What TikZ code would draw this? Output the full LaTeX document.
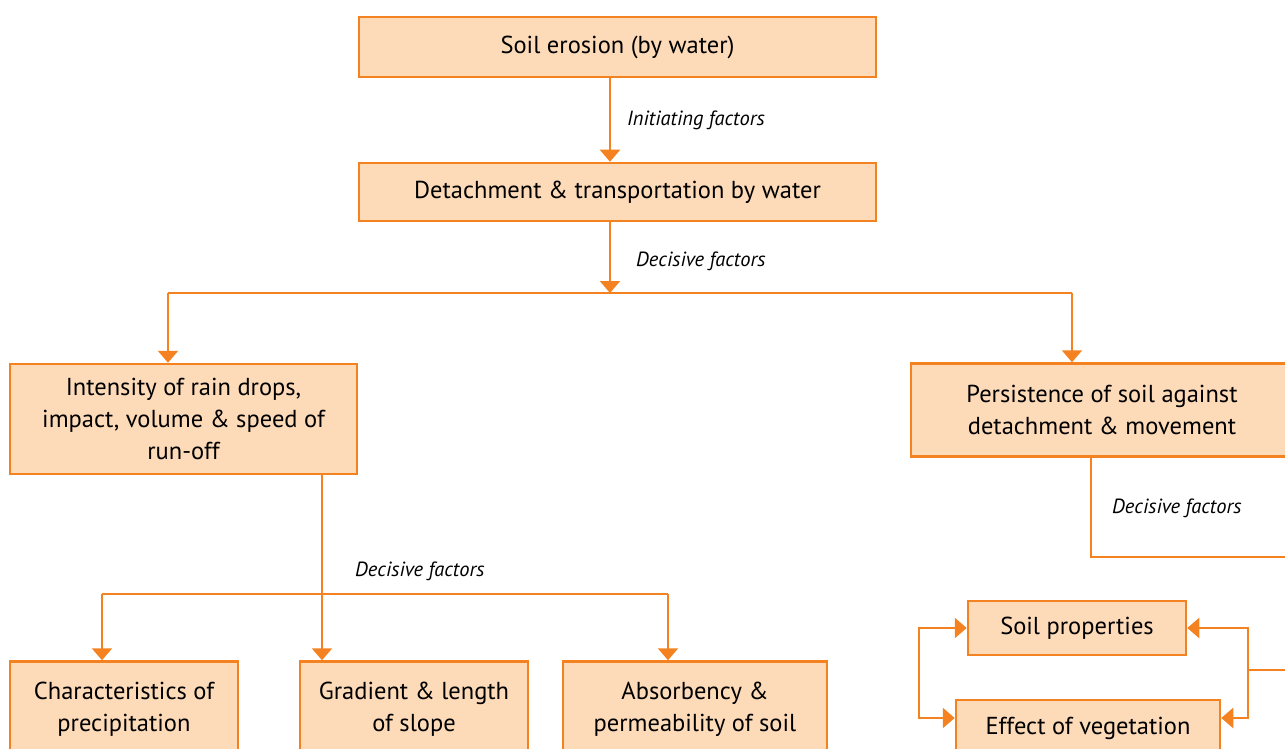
\documentclass[tikz,border=0pt]{standalone}
\usepackage{fontspec}
\setmainfont{PT Sans}
\usepackage{tikz}
\usetikzlibrary{arrows.meta,positioning}
\definecolor{boxline}{HTML}{F58220}
\definecolor{boxfill}{HTML}{FDDAB8}
\tikzset{
    %Define standard arrow tip
    >={Triangle[length=12pt,width=20pt]},
    %Define style for boxes
    punkt/.style={
           rectangle,
           draw=boxline, line width=2.5pt,
           fill=boxfill,
           inner sep=0pt,
           align=center,
           font=\fontsize{24.5}{32}\selectfont},
    % Define line and arrow style
    lijn/.style={
           draw=boxline,
           line width=2.4pt},
    pil/.style={
           lijn,
           ->},
    % Define style for labels on the arrows
    uitleg/.style={
           anchor=west,
           inner sep=0pt,
           font=\itshape\fontsize{20.5}{22}\selectfont}
}
\begin{document}
\begin{tikzpicture}[x=1pt,y=-1pt]
\useasboundingbox (0,0) rectangle (1285,749);
\clip (0,0) rectangle (1285,749);

\node[punkt, minimum width=517, minimum height=60](1) at (617.5,47) {Soil erosion (by water)};
\node[punkt, minimum width=517, minimum height=58](2) at (617.5,192) {Detachment \& transportation by water};
\node[punkt, minimum width=347, minimum height=110](3) at (183.5,419) {Intensity of rain drops,\\ impact, volume \& speed of\\ run-off};
\node[punkt, minimum width=382, minimum height=93](4) at (1102,410) {Persistence of soil against\\ detachment \& movement};
\node[punkt, minimum width=228, minimum height=96](5) at (124,709.5) {Characteristics of\\ precipitation};
\node[punkt, minimum width=228, minimum height=96](6) at (414,709.5) {Gradient \& length\\ of slope};
\node[punkt, minimum width=264, minimum height=96](7) at (695,709.5) {Absorbency \&\\ permeability of soil};
\node[punkt, minimum width=218, minimum height=54](8) at (1077,628) {Soil properties};
\node[punkt, minimum width=264, minimum height=56](9) at (1088,728) {Effect of vegetation};

% labels
\node[uitleg](l1) at (627,120) {Initiating factors};
\node[uitleg](l2) at (636,261) {Decisive factors};
\node[uitleg](l3) at (355,571) {Decisive factors};
\node[uitleg](l4) at (1112,508) {Decisive factors};

% branching points
\coordinate (a) at (610,293);
\coordinate (al) at (168,293);
\coordinate (ar) at (1072,293);
\coordinate (b) at (322,594);
\coordinate (bl) at (102,594);
\coordinate (br) at (668,594);
\coordinate (c) at (1091,557);
\coordinate (cout) at (1300,557);
\coordinate (din) at (1300,670);
\coordinate (dl) at (919,718);
\coordinate (dr) at (1248,718);

\draw[pil] (1.south -| a) -- (2.north -| a);
\draw[pil] (2.south -| a) -- (a);
\draw[lijn] (al) -- (ar);
\draw[pil] (al) -- (al |- 3.north);
\draw[pil] (ar) -- (ar |- 4.north);

\draw[pil] (3.south -| b) -- (b |- 6.north);
\draw[lijn] (bl) -- (br);
\draw[pil] (bl) -- (bl |- 5.north);
\draw[pil] (br) -- (br |- 7.north);

\draw[lijn] (4.south -| c) -- (c) -- (cout);
\draw[lijn] (din) -- (din -| dr);
\draw[pil,<->] (8.west) -| (dl) -- (dl -| 9.west);
\draw[pil,<->] (8.east) -| (dr) -- (dr -| 9.east);

\end{tikzpicture}
\end{document}
